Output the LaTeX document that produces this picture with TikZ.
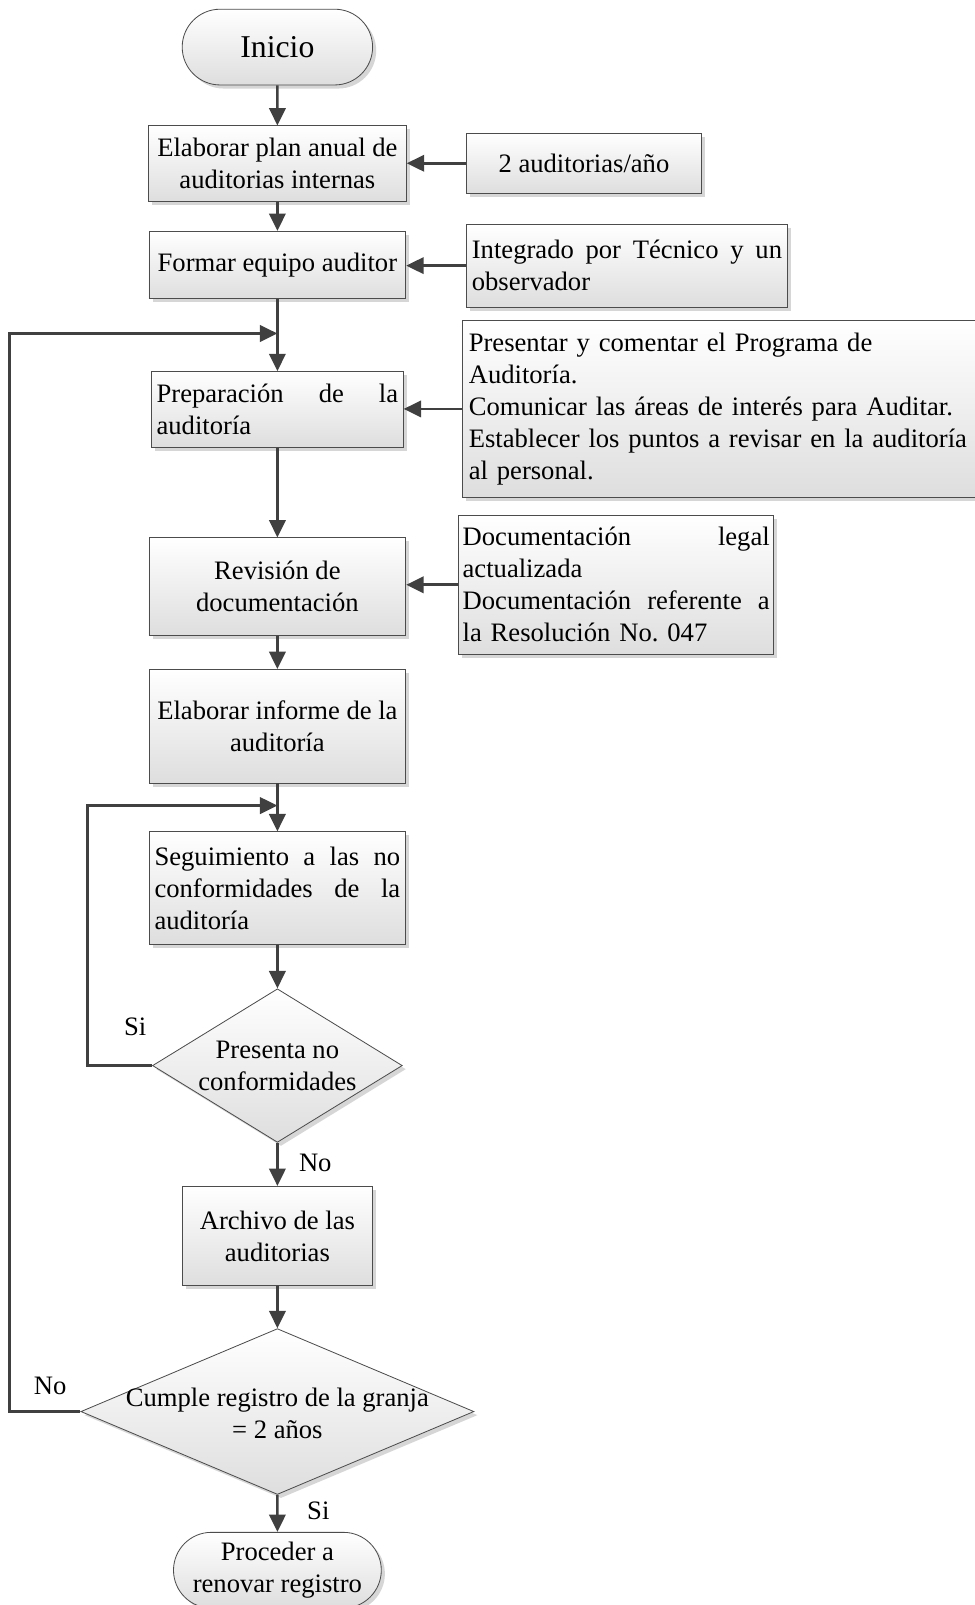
\documentclass[tikz,border=0pt]{standalone}
\usepackage{fontspec}
\setmainfont{Liberation Serif}
\usetikzlibrary{arrows.meta,shadows,shapes.geometric,shapes.misc}
\newcommand\flowtxt{\fontsize{26bp}{31.3bp}\selectfont}
\newcommand\bigtxt{\fontsize{31bp}{37bp}\selectfont}
% a fully justified line of a given width, words separated by \hfil
\newcommand\spreadline[2]{\leavevmode\hbox to #1{#2}}
\frenchspacing

\begin{document}
\begin{tikzpicture}[x=1bp,y=-1bp,
  shapebase/.style={draw=black!70, line width=0.8bp, top color=white, bottom color=black!13,
    drop shadow={shadow xshift=3.5bp, shadow yshift=-3.5bp, fill=black!40, opacity=0.4},
    inner sep=0pt, font=\flowtxt},
  procbox/.style={shapebase, rectangle, align=center},
  notebox/.style={shapebase, rectangle, align=left},
  termbox/.style={shapebase, rounded rectangle, align=center},
  decision/.style={shapebase, diamond},
  arr/.style={draw=black!75, line width=2.6bp, -{Triangle[length=17bp,width=16bp]}},
  tag/.style={font=\flowtxt, inner sep=0pt},
]
\fill[white] (0,0) rectangle (952,1568);
\useasboundingbox (0,0) rectangle (952,1568);

% main column
\node[termbox, minimum width=186bp, minimum height=74bp, font=\bigtxt] (ini) at (271,46) {Inicio};
\node[procbox, minimum width=252bp, minimum height=74bp] (p1) at (271,160) {Elaborar plan anual de\\auditorias internas};
\node[procbox, minimum width=251bp, minimum height=66bp] (p2) at (271,259) {Formar equipo auditor};
\node[procbox, minimum width=246bp, minimum height=74bp, text width=236bp, align=left] (p3) at (271,400)
  {\spreadline{236bp}{Preparación\hfil de\hfil la}\\auditoría};
\node[procbox, minimum width=251bp, minimum height=95bp] (p4) at (271,573) {Revisión de\\documentación};
\node[procbox, minimum width=250bp, minimum height=111bp] (p5) at (271,709.5) {Elaborar informe de la\\auditoría};
\node[procbox, minimum width=250bp, minimum height=110bp, text width=240bp, align=left] (p6) at (271,867.6)
  {\spreadline{240bp}{Seguimiento\hfil a\hfil las\hfil no}\\\spreadline{240bp}{conformidades\hfil de\hfil la}\\auditoría};
\node[decision, minimum width=244bp, minimum height=150bp] (d1) at (271,1041) {};
\node[tag, align=center] (d1t) at (d1) {Presenta no\\conformidades};
\node[procbox, minimum width=185bp, minimum height=97bp] (p7) at (271,1207.5) {Archivo de las\\auditorias};
\node[decision, minimum width=384bp, minimum height=162bp] (d2) at (271,1379) {};
\node[tag, align=center] (d2t) at (271,1380.5) {Cumple registro de la granja\\= 2 años};
\node[termbox, minimum width=203bp, minimum height=74bp] (fin) at (271,1534) {Proceder a\\renovar registro};

% side notes
\node[procbox, minimum width=229bp, minimum height=59bp] (n1) at (570.5,159.5) {2 auditorias/año};
\node[notebox, minimum width=313bp, minimum height=81bp, text width=303bp] (n2) at (612.5,259.5)
  {\spreadline{303bp}{Integrado\hfil por\hfil Técnico\hfil y\hfil un}\\observador};
\node[notebox, minimum width=513bp, minimum height=173bp, text width=501bp] (n3) at (708.5,399.5)
  {Presentar y comentar el Programa de\\Auditoría.\\Comunicar las áreas de interés para Auditar.\\Establecer los puntos a revisar en la auditoría\\al personal.};
\node[notebox, minimum width=308bp, minimum height=136bp, text width=300bp] (n4) at (602,571.3)
  {\spreadline{300bp}{Documentación\hfil legal}\\actualizada\\\spreadline{300bp}{Documentación\hfil referente\hfil a}\\la Resolución No. 047};

% joints where the loops come back
\coordinate (j2) at (271,325.8);
\coordinate (j1) at (271,787);

% main flow
\draw[arr] (ini) -- (p1);
\draw[arr] (p1) -- (p2);
\draw[arr] (p2) -- (p3);
\draw[arr] (p3) -- (p4);
\draw[arr] (p4) -- (p5);
\draw[arr] (p5) -- (p6);
\draw[arr] (p6) -- (d1);
\draw[arr] (d1) -- (p7);
\draw[arr] (p7) -- (d2);
\draw[arr] (d2) -- (fin);

% inputs from the notes
\draw[arr] (n1.west) -- (n1.west -| p1.east);
\draw[arr] (n2.west) -- (n2.west -| p2.east);
\draw[arr] (n3.west) -- (n3.west -| p3.east);
\draw[arr] (n4.west) -- (n4.west -| p4.east);

% loops
\draw[arr] (d1.west) -- ++(-63.3,0) |- (j1);
\draw[arr] (d2.west) -- ++(-69.2,0) |- (j2);

% branch labels
\node[tag] (si1) at (132,1003.5) {Si};
\node[tag] (no1) at (308,1136) {No};
\node[tag] (no2) at (49,1354) {No};
\node[tag] (si2) at (311,1476) {Si};
\end{tikzpicture}
\end{document}
